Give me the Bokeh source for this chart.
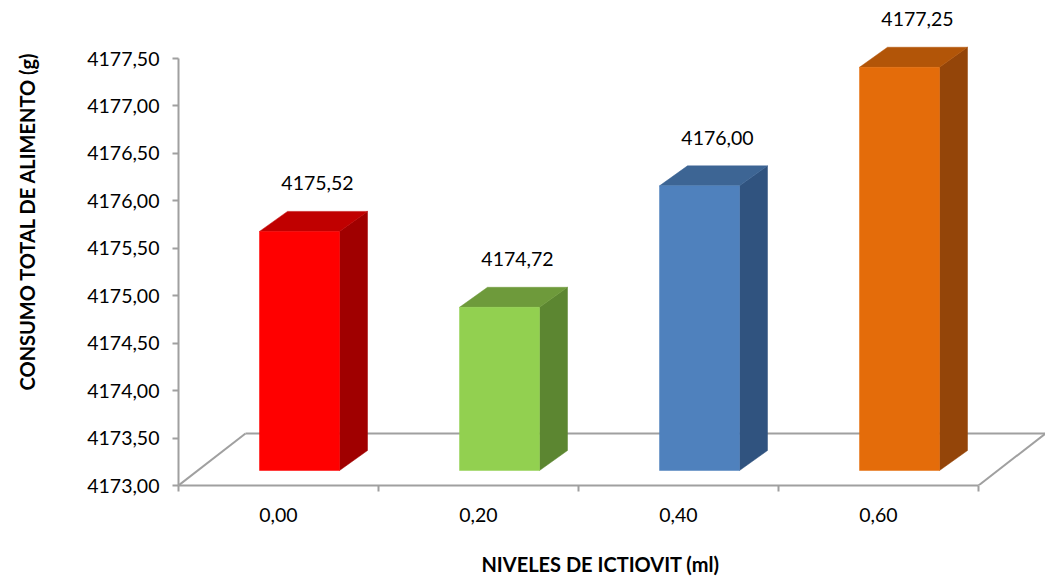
import numpy as np
from bokeh.plotting import figure
from bokeh.models import Range1d, FixedTicker, GridBox
from bokeh.core.properties import value
from bokeh.embed import file_html
from bokeh.resources import INLINE

# Data
categories = ["0,00", "0,20", "0,40", "0,60"]
consumo = [4175.52, 4174.72, 4176.00, 4177.25]
y_ticks = [4173.0, 4173.5, 4174.0, 4174.5, 4175.0, 4175.5, 4176.0, 4176.5, 4177.0, 4177.5]
y_tick_labels = ["4173,00", "4173,50", "4174,00", "4174,50", "4175,00",
                 "4175,50", "4176,00", "4176,50", "4177,00", "4177,50"]
y_title = "CONSUMO TOTAL DE ALIMENTO (g)"
x_title = "NIVELES DE ICTIOVIT (ml)"

# Face colours (front, top, side) per bar
front_colors = ["#FF0000", "#92D050", "#4F81BD", "#E46C0A"]
top_colors = ["#C00000", "#6E9A3B", "#3D6594", "#B25508"]
side_colors = ["#A00000", "#5C8631", "#30537F", "#944509"]

FONT = "Lato"
FSIZE = "19.5px"
TSIZE = "20px"
GRAY = "#A0A0A0"
BASE = 4173.0
PX_PER_UNIT_Y = 94.88
PX_PER_CAT = 200

# Page grid: [y-title strip | chart] on the first row, x-title strip spanning the second
W, H = 1045, 581
LEFT_STRIP = 40
BOTTOM_STRIP = 40
MAIN_W = W - LEFT_STRIP
MAIN_H = H - BOTTOM_STRIP
FRAME_LEFT = 178 - LEFT_STRIP
FRAME_H = 485

p = figure(width=MAIN_W, height=MAIN_H, output_backend="svg", toolbar_location=None,
           x_range=Range1d(0, (MAIN_W - FRAME_LEFT) / PX_PER_CAT),
           y_range=Range1d(BASE, BASE + FRAME_H / PX_PER_UNIT_Y),
           min_border_left=FRAME_LEFT, min_border_right=0, min_border_top=0,
           min_border_bottom=MAIN_H - FRAME_H)
p.outline_line_color = None
p.grid.visible = False
p.background_fill_color = "white"
p.border_fill_color = "white"

# Floor of the 3D plot area (depth offset in data units)
fdx, fdy = 0.335, 0.548
n = len(categories)
p.segment(x0=[0, n], y0=[BASE, BASE], x1=[fdx, n + fdx], y1=[BASE + fdy, BASE + fdy],
          line_color=GRAY, line_width=2)
p.segment(x0=[fdx], y0=[BASE + fdy], x1=[n + fdx], y1=[BASE + fdy],
          line_color=GRAY, line_width=2)

# 3D bars: front quad, top and side parallelograms
idx = np.arange(n)
vals = np.array(consumo)
shift_y = 0.158
L = idx + 0.405
R = idx + 0.805
B = np.full(n, BASE + shift_y)
T = vals + shift_y
bdx, bdy = 0.14, 0.211

side_xs = [[r, r + bdx, r + bdx, r] for r in R]
side_ys = [[b, b + bdy, t + bdy, t] for b, t in zip(B, T)]
top_xs = [[l, r, r + bdx, l + bdx] for l, r in zip(L, R)]
top_ys = [[t, t, t + bdy, t + bdy] for t in T]

p.patches(side_xs, side_ys, fill_color=side_colors, line_color=side_colors, line_width=0.5)
p.patches(top_xs, top_ys, fill_color=top_colors, line_color=top_colors, line_width=0.5)
p.quad(left=L, right=R, bottom=B, top=T, fill_color=front_colors,
       line_color=front_colors, line_width=0.5)

# Value labels above each bar
value_text = [f"{v:.2f}".replace(".", ",") for v in consumo]
p.text(x=idx + 0.695, y=T + 0.506, text=value_text, text_align="center",
       text_baseline="middle", text_font=value(FONT), text_font_size=FSIZE,
       text_color="#000000")

# Y axis
ya = p.yaxis[0]
ya.bounds = (y_ticks[0], y_ticks[-1])
ya.ticker = FixedTicker(ticks=y_ticks)
ya.major_label_overrides = {t: s for t, s in zip(y_ticks, y_tick_labels)}
ya.axis_line_color = GRAY
ya.axis_line_width = 2
ya.major_tick_line_color = GRAY
ya.major_tick_line_width = 2
ya.major_tick_out = 6
ya.major_tick_in = 0
ya.minor_tick_line_color = None
ya.major_label_standoff = 13
ya.major_label_text_font = FONT
ya.major_label_text_font_size = FSIZE
ya.major_label_text_color = "#000000"

# X axis: ticks on category boundaries, labels on centres
xa = p.xaxis[0]
xa.bounds = (0, n)
xa.ticker = FixedTicker(ticks=[i + 0.5 for i in range(n)], minor_ticks=list(range(n + 1)))
xa.major_label_overrides = {i + 0.5: c for i, c in enumerate(categories)}
xa.axis_line_color = GRAY
xa.axis_line_width = 2
xa.major_tick_line_color = None
xa.minor_tick_line_color = GRAY
xa.minor_tick_line_width = 2
xa.minor_tick_out = 6
xa.minor_tick_in = 0
xa.major_label_standoff = 16
xa.major_label_text_font = FONT
xa.major_label_text_font_size = FSIZE
xa.major_label_text_color = "#000000"


def strip(width, height):
    """Plain white figure (pixel coordinates) that only holds a title."""
    f = figure(width=width, height=height, output_backend="svg", toolbar_location=None,
               x_range=Range1d(0, width), y_range=Range1d(0, height),
               x_axis_type=None, y_axis_type=None,
               min_border_left=0, min_border_right=0, min_border_top=0, min_border_bottom=0)
    f.outline_line_color = None
    f.grid.visible = False
    f.background_fill_color = "white"
    f.border_fill_color = "white"
    return f


# Vertical axis title
ys = strip(LEFT_STRIP, MAIN_H)
ys.text(x=[26], y=[MAIN_H - 246], text=[y_title], angle=np.pi / 2, text_align="center",
        text_baseline="middle", text_font=value(FONT), text_font_size=TSIZE,
        text_font_style="bold", text_color="#000000")

# Horizontal axis title
xs = strip(W, BOTTOM_STRIP)
xs.text(x=[600], y=[H - 563], text=[x_title], text_align="center",
        text_baseline="middle", text_font=value(FONT), text_font_size=TSIZE,
        text_font_style="bold", text_color="#000000")

page = GridBox(children=[(ys, 0, 0), (p, 0, 1), (xs, 1, 0, 1, 2)], spacing=0)

open("out.html", "w").write(file_html(page, INLINE))
